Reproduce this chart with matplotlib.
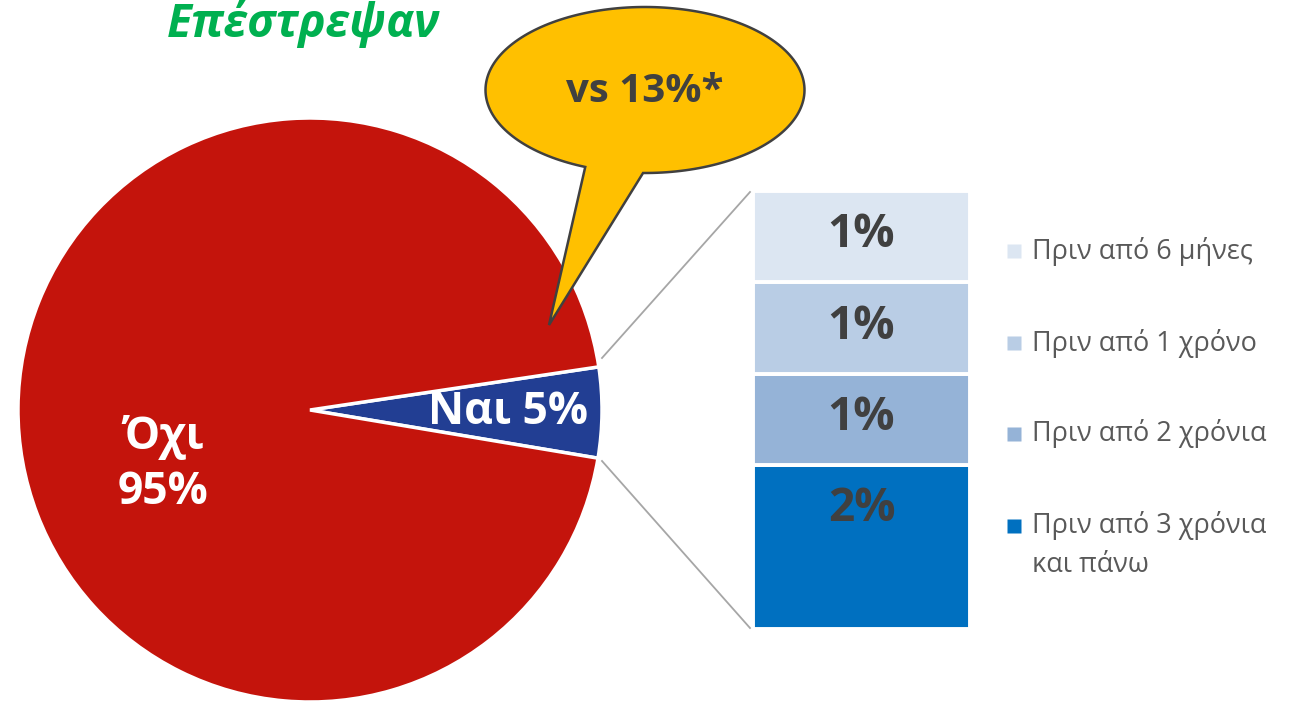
import numpy as np
import matplotlib
matplotlib.use("Agg")
import matplotlib.pyplot as plt
from matplotlib.path import Path
from matplotlib.patches import PathPatch

plt.rcParams["font.family"] = ["Open Sans", "DejaVu Sans"]

# --- data ---
pie_labels = ["Ναι", "Όχι"]
pie_values = [5, 95]
pie_colors = ["#223E93", "#C4140C"]

bar_labels = ["Πριν από 3 χρόνια\nκαι πάνω", "Πριν από 2 χρόνια",
              "Πριν από 1 χρόνο", "Πριν από 6 μήνες"]
bar_values = [1.8, 1.0, 1.0, 1.0]
bar_text = ["2%", "1%", "1%", "1%"]
bar_colors = ["#0070C0", "#95B3D7", "#B9CDE5", "#DCE6F2"]

title = "Επέστρεψαν"
bubble_text = "vs 13%*"

W, H = 1293, 703


def py(y):
    """pixel y (top down) -> data y"""
    return H - y


fig = plt.figure(figsize=(W / 100, H / 100), dpi=100)
ax = fig.add_axes([0, 0, 1, 1])

# pie
ax.pie(pie_values, colors=pie_colors, startangle=-9.5, center=(310, py(410)),
       radius=292, wedgeprops=dict(edgecolor="white", linewidth=2.5))
ax.set_xlim(0, W)
ax.set_ylim(0, H)
ax.set_aspect("equal")
ax.axis("off")

ax.text(163, py(437), pie_labels[1], color="white", fontsize=32,
        fontweight="bold", ha="center", va="center")
ax.text(163, py(492), f"{pie_values[1]}%", color="white", fontsize=32,
        fontweight="bold", ha="center", va="center")
ax.text(508, py(412), f"{pie_labels[0]} {pie_values[0]}%", color="white",
        fontsize=32, fontweight="bold", ha="center", va="center")

# connector lines pie -> bar
ax.plot([602, 750], [py(358), py(192)], color="#A6A6A6", lw=1.3)
ax.plot([602, 750], [py(461), py(628)], color="#A6A6A6", lw=1.3)

# title
ax.text(303, py(24), title, color="#00B050", fontsize=33, fontweight="bold",
        fontstyle="italic", ha="center", va="center")

# speech bubble
cx, cy, a, b = 645, 90, 159.5, 83
t = np.radians(np.linspace(112, 450.7, 200))
xs = cx + a * np.cos(t)
ys = cy + b * np.sin(t)
verts = list(zip(xs, py(ys))) + [(549, py(325)), (xs[0], py(ys[0]))]
codes = [Path.MOVETO] + [Path.LINETO] * (len(verts) - 2) + [Path.CLOSEPOLY]
ax.add_patch(PathPatch(Path(verts, codes), facecolor="#FFC000",
                       edgecolor="#404040", lw=1.8, zorder=5))
ax.text(645, py(92), bubble_text, color="#404040", fontsize=29,
        fontweight="bold", ha="center", va="center", zorder=6)

# stacked bar
axb = fig.add_axes([753 / W, (H - 629) / H, 217 / W, 438 / H])
bottom = 0
for val, col, lab in zip(bar_values, bar_colors, bar_text):
    axb.bar(0, val, bottom=bottom, width=1, color=col, edgecolor="white",
            linewidth=2.8)
    axb.text(0, bottom + val - 0.48, lab, color="#404040", fontsize=33,
             fontweight="bold", ha="center", va="center")
    bottom += val
axb.set_xlim(-0.5, 0.5)
axb.set_ylim(0, sum(bar_values))
axb.axis("off")

# legend (top to bottom)
leg_y = [251, 343, 434, 526]
for lab, col, y in zip(bar_labels[::-1], bar_colors[::-1], leg_y):
    ax.plot(1014, py(y), marker="s", ms=9.5, color=col, mec="none")
    lines = lab.split("\n")
    for i, line in enumerate(lines):
        ax.text(1032, py(y + 39 * i), line, color="#595959", fontsize=19.5,
                ha="left", va="center")

fig.savefig("out.png", dpi=100)
